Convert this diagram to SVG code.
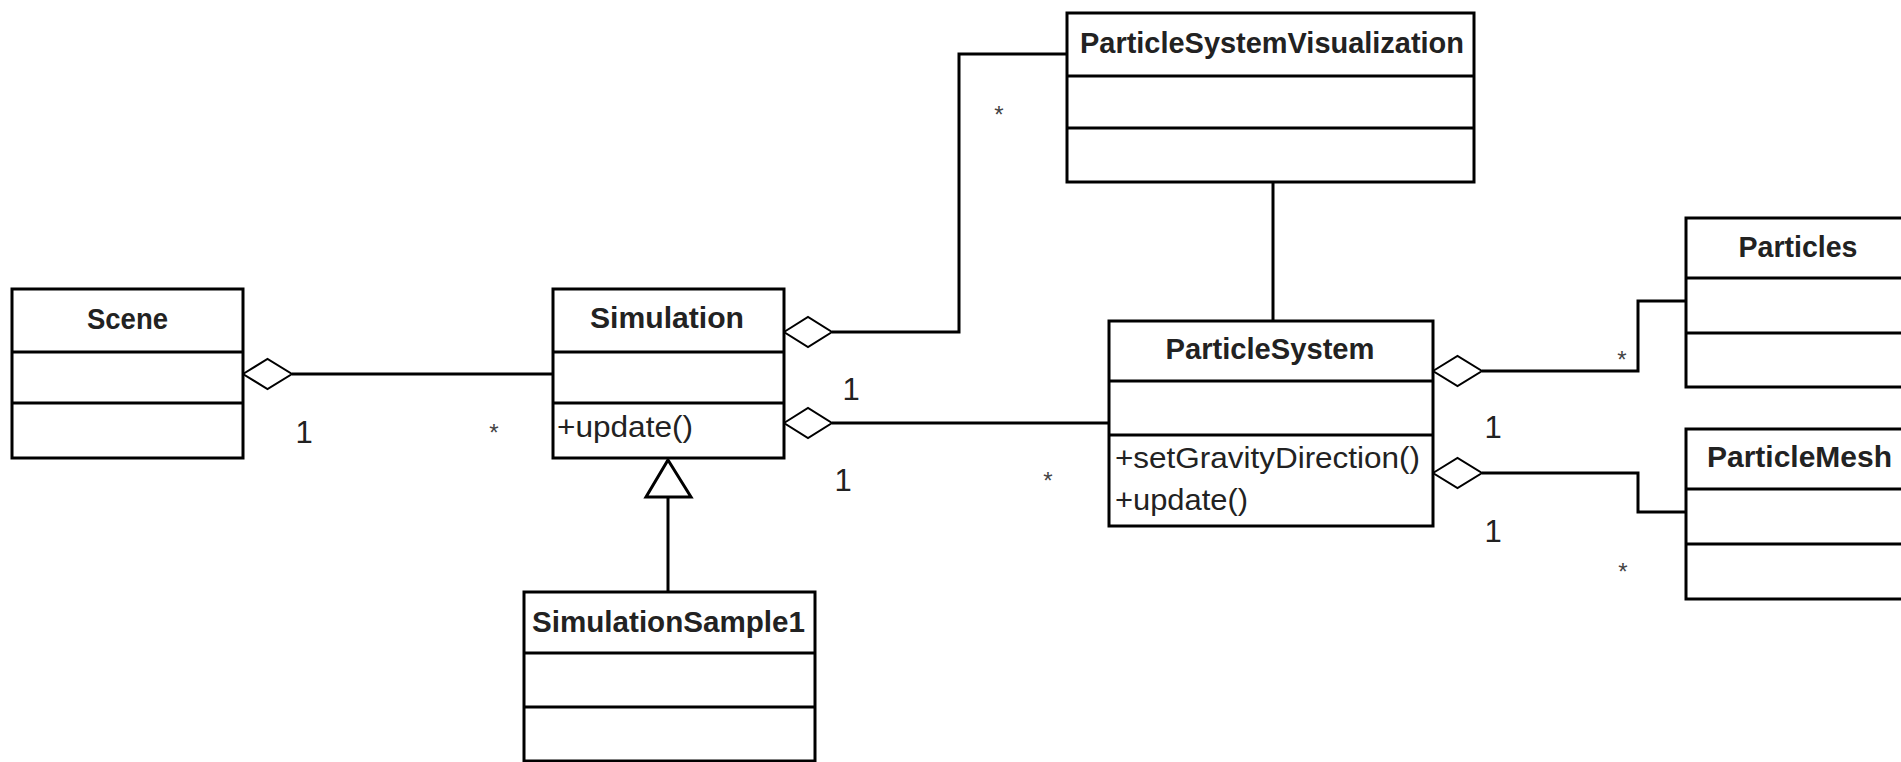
<svg xmlns="http://www.w3.org/2000/svg" width="1901" height="762" viewBox="0 0 1901 762">
<style>
.box{fill:#fff;stroke:#000;stroke-width:3}
.div{stroke:#000;stroke-width:3}
.name{font-family:"Liberation Sans",Arial,sans-serif;font-size:29px;font-weight:bold;fill:#222;text-anchor:middle}
.op{font-family:"Liberation Sans",Arial,sans-serif;font-size:29px;fill:#222}
.lbl{font-family:"Liberation Sans",Arial,sans-serif;font-size:31px;fill:#222;text-anchor:middle}
.star{font-family:"Liberation Sans",Arial,sans-serif;font-size:24px;fill:#444;text-anchor:middle}
.conn{fill:none;stroke:#000;stroke-width:3}
.dia{fill:#fff;stroke:#000;stroke-width:2}
</style>
<rect width="1901" height="762" fill="#fff"/>

<g id="connectors">
  <polyline class="conn" points="292,374 553,374"/>
  <polygon class="dia" points="243,374 267.5,359 292,374 267.5,389"/>
  <polyline class="conn" points="832,332 959,332 959,54 1067,54"/>
  <polygon class="dia" points="784,332 808,317 832,332 808,347"/>
  <polyline class="conn" points="832,423 1109,423"/>
  <polygon class="dia" points="784,423 808,408 832,423 808,438"/>
  <polyline class="conn" points="1273,182 1273,321"/>
  <polyline class="conn" points="668,497 668,592"/>
  <polygon class="dia" points="668,460 691,497 646,497" style="stroke-width:3"/>
  <polyline class="conn" points="1482,371 1638,371 1638,301 1686,301"/>
  <polygon class="dia" points="1433,371 1457.5,356 1482,371 1457.5,386"/>
  <polyline class="conn" points="1482,473 1638,473 1638,512 1686,512"/>
  <polygon class="dia" points="1433,473 1457.5,458 1482,473 1457.5,488"/>
  <text class="lbl" x="304" y="443">1</text>
  <text class="star" x="494" y="441">*</text>
  <text class="lbl" x="851" y="400">1</text>
  <text class="lbl" x="843" y="491">1</text>
  <text class="star" x="1048" y="489">*</text>
  <text class="star" x="999" y="123">*</text>
  <text class="lbl" x="1493" y="438">1</text>
  <text class="lbl" x="1493" y="542">1</text>
  <text class="star" x="1622" y="368">*</text>
  <text class="star" x="1623" y="580">*</text>
</g>

<g id="scene">
  <rect class="box" x="12" y="289" width="231" height="169"/>
  <line class="div" x1="12" y1="352" x2="243" y2="352"/>
  <line class="div" x1="12" y1="403" x2="243" y2="403"/>
  <text class="name" x="127.5" y="329" textLength="81" lengthAdjust="spacingAndGlyphs">Scene</text>
</g>

<g id="simulation">
  <rect class="box" x="553" y="289" width="231" height="169"/>
  <line class="div" x1="553" y1="352" x2="784" y2="352"/>
  <line class="div" x1="553" y1="403" x2="784" y2="403"/>
  <text class="name" x="667" y="328" textLength="154" lengthAdjust="spacingAndGlyphs">Simulation</text>
  <text class="op" x="557" y="437" textLength="136" lengthAdjust="spacingAndGlyphs">+update()</text>
</g>

<g id="simulationSample1">
  <rect class="box" x="524" y="592" width="291" height="169"/>
  <line class="div" x1="524" y1="653" x2="815" y2="653"/>
  <line class="div" x1="524" y1="707" x2="815" y2="707"/>
  <text class="name" x="668.5" y="632" textLength="273" lengthAdjust="spacingAndGlyphs">SimulationSample1</text>
</g>

<g id="particleSystemVisualization">
  <rect class="box" x="1067" y="13" width="407" height="169"/>
  <line class="div" x1="1067" y1="76" x2="1474" y2="76"/>
  <line class="div" x1="1067" y1="128" x2="1474" y2="128"/>
  <text class="name" x="1272" y="53" textLength="384" lengthAdjust="spacingAndGlyphs">ParticleSystemVisualization</text>
</g>

<g id="particleSystem">
  <rect class="box" x="1109" y="321" width="324" height="205"/>
  <line class="div" x1="1109" y1="381" x2="1433" y2="381"/>
  <line class="div" x1="1109" y1="435" x2="1433" y2="435"/>
  <text class="name" x="1270" y="359" textLength="209" lengthAdjust="spacingAndGlyphs">ParticleSystem</text>
  <text class="op" x="1115" y="468" textLength="305" lengthAdjust="spacingAndGlyphs">+setGravityDirection()</text>
  <text class="op" x="1115" y="510" textLength="133" lengthAdjust="spacingAndGlyphs">+update()</text>
</g>

<g id="particles">
  <rect class="box" x="1686" y="218" width="230" height="169"/>
  <line class="div" x1="1686" y1="278" x2="1916" y2="278"/>
  <line class="div" x1="1686" y1="333" x2="1916" y2="333"/>
  <text class="name" x="1798" y="257" textLength="119" lengthAdjust="spacingAndGlyphs">Particles</text>
</g>

<g id="particleMesh">
  <rect class="box" x="1686" y="429" width="230" height="170"/>
  <line class="div" x1="1686" y1="489" x2="1916" y2="489"/>
  <line class="div" x1="1686" y1="544" x2="1916" y2="544"/>
  <text class="name" x="1799.5" y="467" textLength="185" lengthAdjust="spacingAndGlyphs">ParticleMesh</text>
</g>
</svg>
